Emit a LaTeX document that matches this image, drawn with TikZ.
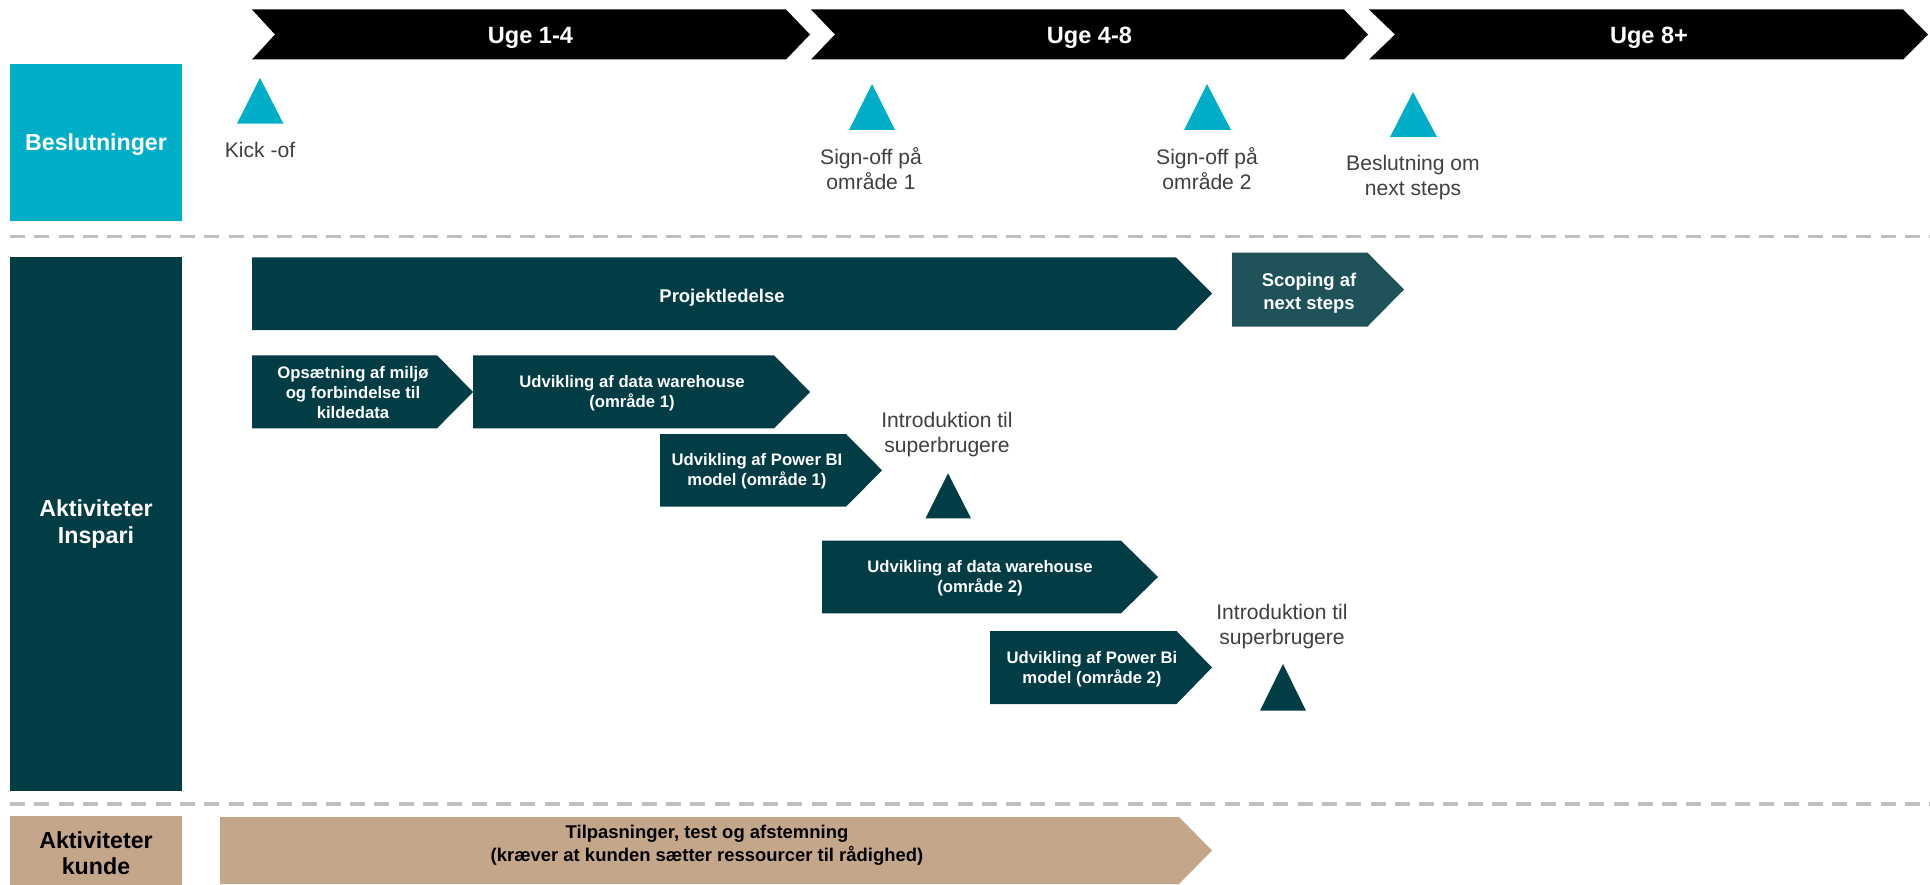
\documentclass[tikz,border=0pt]{standalone}
\usepackage{fontspec}
\setmainfont{Liberation Sans}
\definecolor{beslcyan}{HTML}{00AEC7}
\definecolor{inspari}{HTML}{023D46}
\definecolor{scoping}{HTML}{1F5259}
\definecolor{kunde}{HTML}{C4A68B}
\definecolor{labelgray}{HTML}{404040}
\definecolor{sepgray}{HTML}{BFBFBF}

\begin{document}
\begin{tikzpicture}[x=0.02cm,y=-0.02cm]
      \tikzstyle{rowlabel}=[text=white,align=center,font=\fontsize{13.2}{14.8}\selectfont\bfseries]
      \tikzstyle{weektext}=[text=white,anchor=base,font=\fontsize{13.4}{16}\selectfont\bfseries]
      \tikzstyle{milestone}=[text=labelgray,align=center,font=\fontsize{12}{14.2}\selectfont]
      \tikzstyle{task}=[text=white,align=center,font=\fontsize{9.5}{11.4}\selectfont\bfseries]
      \tikzstyle{bigtask}=[text=white,align=center,font=\fontsize{10.5}{12.9}\selectfont\bfseries]
      \tikzstyle{separator}=[sepgray,line width=0.07cm,dash pattern=on 0.3cm off 0.186cm]
      \useasboundingbox (0,0) rectangle (1930,885);
      % Week chevrons
      \fill (252,9.5) -- (786,9.5) -- (810,34.5) -- (786,59.5) -- (252,59.5) -- (275,34.5) -- cycle;
      \fill (811,9.5) -- (1344,9.5) -- (1368,34.5) -- (1344,59.5) -- (811,59.5) -- (835,34.5) -- cycle;
      \fill (1369,9.5) -- (1903,9.5) -- (1928,34.5) -- (1903,59.5) -- (1369,59.5) -- (1395,34.5) -- cycle;
      \node (uge1) at (530.5,43.3) [weektext] {Uge 1-4};
      \node (uge2) at (1089.5,43.3) [weektext] {Uge 4-8};
      \node (uge3) at (1649,43.3) [weektext] {Uge 8+};
      % Row labels
      \fill [beslcyan] (10,64) rectangle (182,221);
      \fill [inspari] (10,257) rectangle (182,791);
      \fill [kunde] (10,816) rectangle (182,885);
      \node (besl) at (96,145) [rowlabel] {Beslutninger};
      \node (akt) at (96,524) [rowlabel] {Aktiviteter\\Inspari};
      \node (aktkunde) at (96,853) [rowlabel,text=black] {Aktiviteter\\kunde};
      % Dashed separators
      \draw [separator] (10,236.7) -- (1930,236.7);
      \draw [separator] (10,804) -- (1930,804);
      % Decision milestones
      \fill [beslcyan] (260,78) -- (283.5,123.7) -- (237,123.7) -- cycle;
      \fill [beslcyan] (872,84) -- (895,130) -- (849,130) -- cycle;
      \fill [beslcyan] (1207,84) -- (1231,130) -- (1184,130) -- cycle;
      \fill [beslcyan] (1413,92) -- (1437,137) -- (1390,137) -- cycle;
      \node (kick) at (260,150) [milestone] {Kick -of};
      \node (sign1) at (871,168.5) [milestone] {Sign-off på\\område 1};
      \node (sign2) at (1207,168.5) [milestone] {Sign-off på\\område 2};
      \node (nextstep) at (1413,178) [milestone] {Beslutning om\\next steps};
      % Inspari activities
      \fill [inspari] (252,257.3) -- (1176,257.3) -- (1212,293.5) -- (1176,330) -- (252,330) -- cycle;
      \fill [scoping] (1232,252.7) -- (1367.5,252.7) -- (1404,289.5) -- (1367.5,326.5) -- (1232,326.5) -- cycle;
      \fill [inspari] (252,355.3) -- (437,355.3) -- (473,392) -- (437,428.3) -- (252,428.3) -- cycle;
      \fill [inspari] (473,355.3) -- (774,355.3) -- (810,392) -- (774,428.3) -- (473,428.3) -- cycle;
      \fill [inspari] (660,434) -- (846,434) -- (882,470.3) -- (846,506.7) -- (660,506.7) -- cycle;
      \fill [inspari] (822,540.7) -- (1121,540.7) -- (1158,577) -- (1121,613.3) -- (822,613.3) -- cycle;
      \fill [inspari] (990,631) -- (1176.5,631) -- (1212,667.5) -- (1176.5,704) -- (990,704) -- cycle;
      \node (projekt) at (722,298) [bigtask] {Projektledelse};
      \node (scope) at (1309,293) [bigtask] {Scoping af\\next steps};
      \node (opsaet) at (353,392.7) [task] {Opsætning af miljø\\og forbindelse til\\kildedata};
      \node (dw1) at (632,393.5) [task] {Udvikling af data warehouse\\(område 1)};
      \node (pbi1) at (757,471.5) [task] {Udvikling af Power BI\\model (område 1)};
      \node (dw2) at (980,578.5) [task] {Udvikling af data warehouse\\(område 2)};
      \node (pbi2) at (1092,669) [task] {Udvikling af Power Bi\\model (område 2)};
      % Introduction milestones
      \fill [inspari] (948,473.3) -- (971,518.3) -- (925.5,518.3) -- cycle;
      \fill [inspari] (1283,664) -- (1306,710.7) -- (1260,710.7) -- cycle;
      \node (intro1) at (947,435) [milestone] {Introduktion til\\superbrugere};
      \node (intro2) at (1282,627) [milestone] {Introduktion til\\superbrugere};
      % Customer activity
      \fill [kunde] (220,817) -- (1179,817) -- (1212,850.5) -- (1179,884) -- (220,884) -- cycle;
      \node (tilpas) at (707,845) [bigtask,text=black] {Tilpasninger, test og afstemning\\(kræver at kunden sætter ressourcer til rådighed)};
\end{tikzpicture}
\end{document}
